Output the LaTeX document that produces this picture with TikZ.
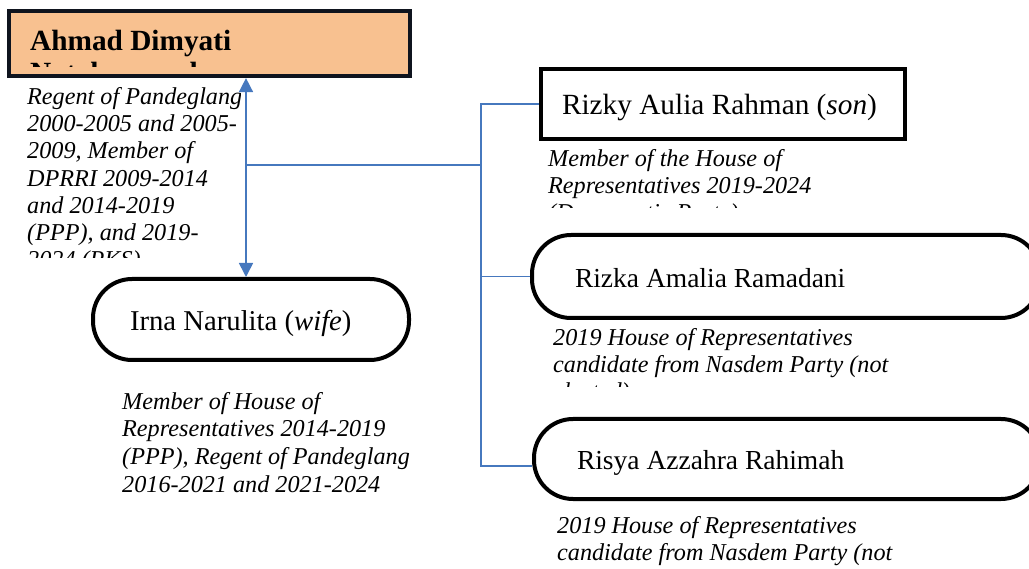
\documentclass[tikz,border=0pt]{standalone}
\usepackage{fontspec}
\setmainfont{Liberation Serif}
\usetikzlibrary{arrows.meta,calc}
\definecolor{headfill}{RGB}{248,193,144}
\definecolor{headline}{RGB}{15,20,30}
\definecolor{linkblue}{RGB}{70,120,190}
\tikzset{
 namefont/.style={font=\fontsize{#1}{34}\selectfont},
 notefont/.style={font=\itshape\fontsize{24.2}{#1}\selectfont},
 namebox/.style={draw=black,line width=4pt,namefont=#1,text height=23.5pt,text depth=1.5pt,inner sep=0pt},
 terminal/.style={namebox=#1,rounded corners=39pt},
 note/.style={notefont=#1,anchor=north west,inner sep=0pt,align=left},
 link/.style={draw=linkblue,line width=1.6pt,>={Triangle[length=14pt,width=14pt]}},
}
\begin{document}
\begin{tikzpicture}[x=1pt,y=-1pt]
 \useasboundingbox (0,0) rectangle (1029,569);
 % head of the family
 \node[draw=headline,fill=headfill,line width=4pt,minimum width=401pt,minimum height=65pt,inner sep=0pt] (dimyati) at (209.4,43.6) {};
 \begin{scope}
  \clip (12,14) rectangle (407,67);
  \node[font=\bfseries\fontsize{29.3}{32}\selectfont,anchor=north west,inner sep=0pt,align=left] (dimyatiname) at (30,29) {\rule{0pt}{21pt}Ahmad Dimyati\\Natakusumah};
 \end{scope}
 \begin{scope}
  \clip (15,80) rectangle (240,258);
  \node[note=27.3] (dimyatinote) at (27,86) {\rule{0pt}{18pt}Regent of Pandeglang\\2000-2005 and 2005-\\2009, Member of\\DPRRI 2009-2014\\and 2014-2019\\(PPP), and 2019-\\2024 (PKS)};
 \end{scope}
 % wife
 \node[terminal=28.7,minimum width=316pt,minimum height=81pt] (irna) at (251,319.5) {\makebox[242pt][l]{Irna Narulita (\textit{wife})}};
 \node[note=27.7] (irnanote) at (122,391) {\rule{0pt}{18pt}Member of House of\\Representatives 2014-2019\\(PPP), Regent of Pandeglang\\2016-2021 and 2021-2024};
 % children
 \node[namebox=29.3,minimum width=364pt,minimum height=70pt] (rizky) at (723,104) {\makebox[322pt][l]{Rizky Aulia Rahman (\textit{son})}};
 \begin{scope}
  \clip (540,145) rectangle (900,208);
  \node[note=27] (rizkynote) at (548,148) {\rule{0pt}{18pt}Member of the House of\\Representatives 2019-2024\\(Democratic Party)};
 \end{scope}
 \node[terminal=27.5,minimum width=508pt,minimum height=83pt] (rizka) at (786,276.5) {\makebox[422pt][l]{Rizka Amalia Ramadani}};
 \begin{scope}
  \clip (545,325) rectangle (1000,387);
  \node[note=27] (rizkanote) at (553,327) {\rule{0pt}{18pt}2019 House of Representatives\\candidate from Nasdem Party (not\\elected)};
 \end{scope}
 \node[terminal=27.5,minimum width=506pt,minimum height=80pt] (risya) at (787,459) {\makebox[420pt][l]{Risya Azzahra Rahimah}};
 \node[note=27] (risyanote) at (557,515) {\rule{0pt}{18pt}2019 House of Representatives\\candidate from Nasdem Party (not};
 % connectors
 \coordinate (stem) at (246,165);
 \coordinate (spine) at (481,165);
 \draw[link,<->] (stem |- dimyati.south) -- (stem |- irna.north);
 \draw[link] (stem) -- (spine);
 \draw[link] (rizky.west) -| (spine) |- ($(risya.west)+(0,7)$);
 \draw[link] (spine |- rizka.west) -- (rizka.west);
\end{tikzpicture}
\end{document}
